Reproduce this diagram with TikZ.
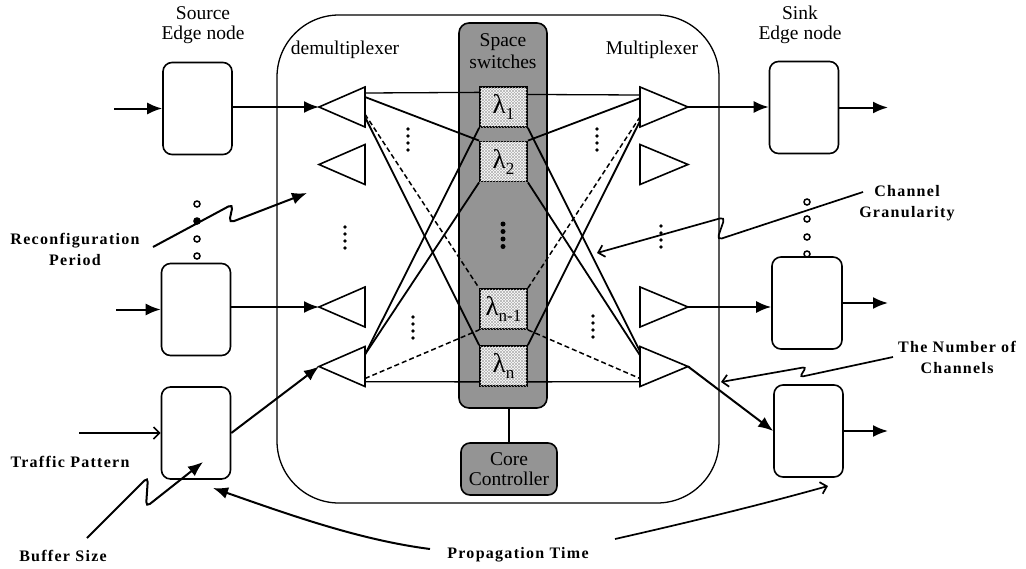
\documentclass[tikz,border=0pt]{standalone}
\usepackage{fontspec}
\setmainfont{Liberation Serif}
\newfontfamily\annfont[LetterSpace=8]{Liberation Serif}
\usetikzlibrary{arrows.meta,patterns,calc}
\newcommand\lamsub[1]{λ\raisebox{-6pt}{\fontsize{17}{17}\selectfont #1}}
\begin{document}
\begin{tikzpicture}[x=1pt,y=-1pt,
  ebox/.style={draw, line width=1.6pt, rounded corners=9pt, minimum width=69pt, minimum height=92pt, inner sep=0pt},
  lbox/.style={draw, line width=1.8pt, minimum width=47pt, minimum height=40pt, inner sep=0pt,
     preaction={fill=white}, pattern=north east lines, pattern color=black!30,
     postaction={pattern=north west lines, pattern color=black!30}, font=\fontsize{27}{27}\selectfont},
  tri/.style={draw, line width=1.6pt, fill=white},
  link/.style={line width=1.8pt},
  hlink/.style={line width=1.3pt},
  dlink/.style={line width=1.5pt, dash pattern=on 5pt off 3pt},
  arr/.style={line width=2pt, -{Latex[length=15pt,width=12pt]}},
  oarr/.style={line width=1.7pt, -{Straight Barb[length=6pt,width=12pt]}},
  ann/.style={font=\annfont\bfseries\fontsize{16}{21}\selectfont, align=center},
  lbl/.style={font=\fontsize{19.5}{20}\selectfont, align=center},
  smalldot/.style={fill, circle, inner sep=0pt, minimum size=3.8pt},
  ringmark/.style={draw, circle, line width=1.5pt, inner sep=0pt, minimum size=6pt, fill=white},
]
\useasboundingbox (0,0) rectangle (1026,568);

% core container
\node[draw, line width=1.3pt, rounded corners=62pt, minimum width=442pt, minimum height=488pt] (core) at (498,259) {};

% space switches column and controller
\node[draw, line width=1.6pt, fill=black!42, rounded corners=10pt, minimum width=88pt, minimum height=385pt] (sw) at (503,215.5) {};
\node[lbl, font=\fontsize{19.5}{22}\selectfont] (swl) at (503,51) {Space\\switches};
\node[draw, line width=1.6pt, fill=black!42, rounded corners=9pt, minimum width=96pt, minimum height=52pt, align=center, font=\fontsize{19.5}{20}\selectfont] (cc) at (509,469) {Core\\Controller};
\draw[line width=1.8pt] (cc.north) -- (cc.north |- sw.south);

% wavelength boxes
\node[lbox] (l1) at (503.5,107) {\lamsub{1}};
\node[lbox] (l2) at (503.5,161.5) {\lamsub{2}};
\node[lbox] (ln1) at (503.5,309) {\lamsub{n-1}};
\node[lbox] (ln) at (503.5,366) {\lamsub{n}};
\foreach \k in {0,...,3} \node[smalldot, minimum size=5pt] (swd\k) at (503,{224+7.5*\k}) {};

% triangle corners
\foreach \i/\y in {1/107,2/164.5,3/307,4/366.5}{
  \coordinate (dt\i) at (319,\y);
  \coordinate (da\i) at (365,{\y-20});
  \coordinate (db\i) at (365,{\y+20});
  \coordinate (mt\i) at (688,\y);
  \coordinate (ma\i) at (640,{\y-20});
  \coordinate (mb\i) at (640,{\y+20});
}

% demux -> switches
\draw[hlink] ($(da1)!0.15!(db1)$) -- ($(l1.north west)!0.15!(l1.south west)$);
\draw[link] ($(da1)!0.25!(db1)$) -- (l2.north west);
\draw[dlink] ($(da1)!0.68!(db1)$) -- (ln1.north west);
\draw[link] ($(da1)!0.75!(db1)$) -- (ln.north west);
\draw[link] ($(da4)!0.2!(db4)$) -- (l1.south west);
\draw[link] ($(da4)!0.2!(db4)$) -- (l2.south west);
\draw[dlink] ($(da4)!0.8!(db4)$) -- (ln1.south west);
\draw[hlink] ($(da4)!0.88!(db4)$) -- ($(ln.north west)!0.88!(ln.south west)$);
% switches -> mux
\draw[hlink] ($(l1.north east)!0.2!(l1.south east)$) -- ($(ma1)!0.2!(mb1)$);
\draw[link] (l2.north east) -- ($(ma1)!0.28!(mb1)$);
\draw[dlink] (ln1.north east) -- ($(ma1)!0.75!(mb1)$);
\draw[link] (ln.north east) -- ($(ma1)!0.85!(mb1)$);
\draw[link] (l1.south east) -- ($(ma4)!0.12!(mb4)$);
\draw[link] (l2.south east) -- ($(ma4)!0.22!(mb4)$);
\draw[dlink] (ln1.south east) -- ($(ma4)!0.8!(mb4)$);
\draw[hlink] ($(ln.north east)!0.88!(ln.south east)$) -- ($(ma4)!0.88!(mb4)$);

% triangles
\foreach \i in {1,...,4}{
  \draw[tri] (dt\i) -- (da\i) -- (db\i) -- cycle;
  \draw[tri] (mt\i) -- (ma\i) -- (mb\i) -- cycle;
}

% dot groups
\foreach \x/\y [count=\g] in {408/129, 345/227, 413/317, 597/129, 661/226, 593/316}
  \foreach \k in {0,...,3} \node[smalldot] (dg\g\k) at (\x,{\y+7*\k}) {};

% labels
\node[lbl] (srcl) at (203,25) {Source\\Edge node};
\node[lbl] (snkl) at (800,25) {Sink\\Edge node};
\node[lbl] (demuxl) at (345,50) {demultiplexer};
\node[lbl] (muxl) at (652,50) {Multiplexer};

% source edge nodes
\node[ebox] (src1) at (197.5,108.5) {};
\node[ebox] (src2) at (196,309.5) {};
\node[ebox] (src3) at (196,433) {};
\coordinate (in1) at (114,108.5);
\coordinate (in2) at (116,309.5);
\coordinate (in3) at (79,433);
\draw[arr] (in1) -- (src1.west);
\draw[arr] (in2) -- (src2.west);
\draw[oarr] (in3) -- (src3.west);
\draw[arr] (src1.east |- dt1) -- (dt1);
\draw[arr] (src2.east |- dt3) -- (dt3);
\draw[arr] (src3.east) -- (dt4);

% sink edge nodes
\node[ebox] (snk1) at (804,107.5) {};
\node[ebox, minimum width=70pt] (snk2) at (807,303) {};
\node[ebox] (snk3) at (808.5,431) {};
\draw[arr] (mt1) -- (snk1.west |- mt1);
\draw[arr] (mt3) -- (snk2.west |- mt3);
\draw[arr] (mt4) -- (snk3.west);
\coordinate (o1) at (888,107.5);
\coordinate (o2) at (888,303);
\coordinate (o3) at (888,431);
\draw[arr] (snk1.east) -- (o1);
\draw[arr] (snk2.east) -- (o2);
\draw[arr] (snk3.east) -- (o3);

% reconfiguration period
\node[ann] (recl) at (75,249) {Reconfiguration\\Period};
\coordinate (rs) at (153,247);
\coordinate (rt) at (307,193);
\draw[arr, rounded corners=5pt] (rs) -- (233,204) -- (229,223) -- (rt);
\node[ringmark] (rc1) at (197,204) {};
\node[ringmark, fill=black] (rc2) at (197,221) {};
\node[ringmark] (rc3) at (197,239) {};
\node[ringmark] (rc4) at (197,256) {};

% sink dots
\foreach \y [count=\k] in {202,219,237,254} \node[ringmark] (sc\k) at (807,\y) {};

% channel granularity
\node[ann] (cgl) at (907,203) {Channel\\Granularity};
\coordinate (cgs) at (863,192);
\coordinate (cgt) at (597,253);
\draw[oarr, rounded corners=5pt] (cgs) -- (717,240) -- (725,217) -- (cgt);

% number of channels
\node[ann] (ncl) at (957,357) {The Number of\\Channels};
\coordinate (ncs) at (893,357);
\coordinate (nct) at (721,382);
\draw[oarr, rounded corners=3pt] (ncs) -- (800,377) -- (806,367) -- (nct);

% traffic pattern, buffer size
\node[ann] (tpl) at (70,462) {Traffic Pattern};
\node[ann] (bsl) at (63,556) {Buffer Size};
\coordinate (bss) at (87,538);
\coordinate (bst) at (203,462);
\draw[arr, rounded corners=5pt] (bss) -- (148,477) -- (146,507) -- (bst);

% propagation time
\node[ann] (ptl) at (518,555) {Propagation Time};
\coordinate (pls) at (430,549);
\coordinate (plt) at (213,488);
\coordinate (prs) at (615,539);
\coordinate (prt) at (828,486);
\draw[arr] (pls) .. controls (360,540) and (290,515) .. (plt);
\draw[oarr] (prs) .. controls (690,522) and (760,505) .. (prt);
\end{tikzpicture}
\end{document}
